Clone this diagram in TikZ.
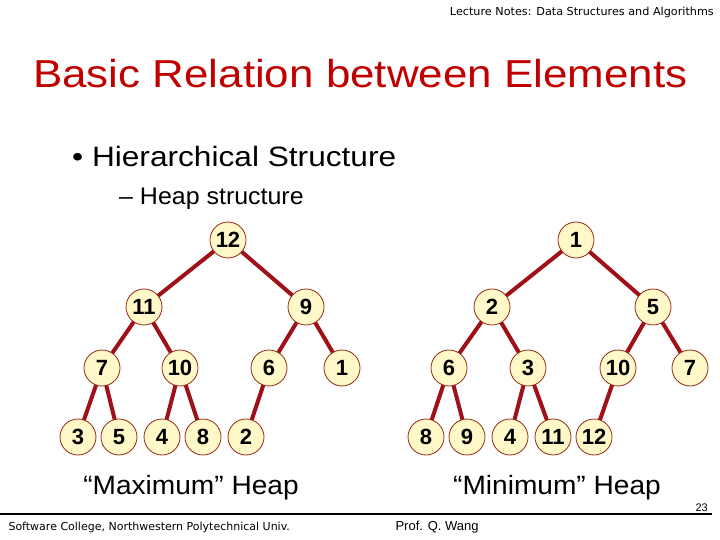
\documentclass[tikz,border=0pt]{standalone}
\usepackage{fontspec}
\setmainfont{Liberation Sans}
\newfontfamily\notefont{DejaVu Sans}
\definecolor{edgered}{RGB}{160,16,24}
\definecolor{nodefill}{RGB}{255,248,200}
\definecolor{nodeborder}{RGB}{150,40,20}
\definecolor{titlered}{RGB}{192,0,0}
\tikzset{
  hn/.style={circle, draw=nodeborder, line width=0.8pt, fill=nodefill, minimum size=36pt, inner sep=0pt, font=\fontsize{22}{22}\selectfont\bfseries},
  he/.style={draw=edgered, line width=4pt}
}
\begin{document}
\begin{tikzpicture}[x=1pt,y=-1pt]
\useasboundingbox (0,0) rectangle (720,540);
% header
\node[anchor=east, inner sep=0pt, font=\notefont\fontsize{11}{11}\selectfont] (hdr) at (714,12) {\scalebox{1.02}[1]{Lecture Notes: Data Structures and Algorithms}};
\node[anchor=west, inner sep=0pt, text=titlered, font=\fontsize{39}{39}\selectfont] (title) at (33,74) {\scalebox{1.126}[1]{Basic Relation between Elements}};
\node[anchor=west, inner sep=0pt, font=\fontsize{28}{28}\selectfont] (b1) at (72,156) {\scalebox{1.13}[1]{\textbullet\ Hierarchical Structure}};
\node[anchor=west, inner sep=0pt, font=\fontsize{24}{24}\selectfont] (b2) at (119,199) {\scalebox{1.04}[1]{-- Heap structure}};
% max heap
\coordinate (m12) at (228,240);
\coordinate (m11) at (144,307);
\coordinate (m9) at (306,307);
\coordinate (m7) at (102,368);
\coordinate (m10) at (180,368);
\coordinate (m6) at (269,368);
\coordinate (m1) at (342,368);
\coordinate (m3) at (78,437);
\coordinate (m5) at (119,437);
\coordinate (m4) at (162,437);
\coordinate (m8) at (203,437);
\coordinate (m2) at (246,437);
\draw[he] (m12)--(m11) (m12)--(m9) (m11)--(m7) (m11)--(m10) (m9)--(m6) (m9)--(m1)
  (m7)--(m3) (m7)--(m5) (m10)--(m4) (m10)--(m8) (m6)--(m2);
\foreach \n/\t in {m12/12,m11/11,m9/9,m7/7,m10/10,m6/6,m1/1,m3/3,m5/5,m4/4,m8/8,m2/2}
  \node[hn] at (\n) {\t};
% min heap
\coordinate (n1) at (576,240);
\coordinate (n2) at (492,307);
\coordinate (n5) at (653,307);
\coordinate (n6) at (449,368);
\coordinate (n3) at (528,368);
\coordinate (n10) at (618,368);
\coordinate (n7) at (690,368);
\coordinate (n8) at (426,437);
\coordinate (n9) at (467,437);
\coordinate (n4) at (510,437);
\coordinate (n11) at (553,437);
\coordinate (n12) at (594,437);
\draw[he] (n1)--(n2) (n1)--(n5) (n2)--(n6) (n2)--(n3) (n5)--(n10) (n5)--(n7)
  (n6)--(n8) (n6)--(n9) (n3)--(n4) (n3)--(n11) (n10)--(n12);
\foreach \n/\t in {n1/1,n2/2,n5/5,n6/6,n3/3,n10/10,n7/7,n8/8,n9/9,n4/4,n11/11,n12/12}
  \node[hn] at (\n) {\t};
% captions
\node[font=\fontsize{26.5}{26.5}\selectfont] (cmax) at (191,488) {\scalebox{1.06}[1]{“Maximum” Heap}};
\node[font=\fontsize{26.5}{26.5}\selectfont] (cmin) at (557,488) {\scalebox{1.06}[1]{“Minimum” Heap}};
% footer
\coordinate (fl) at (0,514);
\coordinate (fr) at (712,514);
\draw[line width=2pt] (fl) -- (fr);
\node[anchor=south east, font=\fontsize{11}{11}\selectfont, inner sep=1pt] (pg) at (709,513) {23};
\node[anchor=west, font=\notefont\fontsize{11}{11}\selectfont] (f1) at (5,527) {Software College, Northwestern Polytechnical Univ.};
\node[anchor=west, font=\fontsize{13}{13}\selectfont] (f2) at (392,527) {Prof. Q. Wang};
\end{tikzpicture}
\end{document}
